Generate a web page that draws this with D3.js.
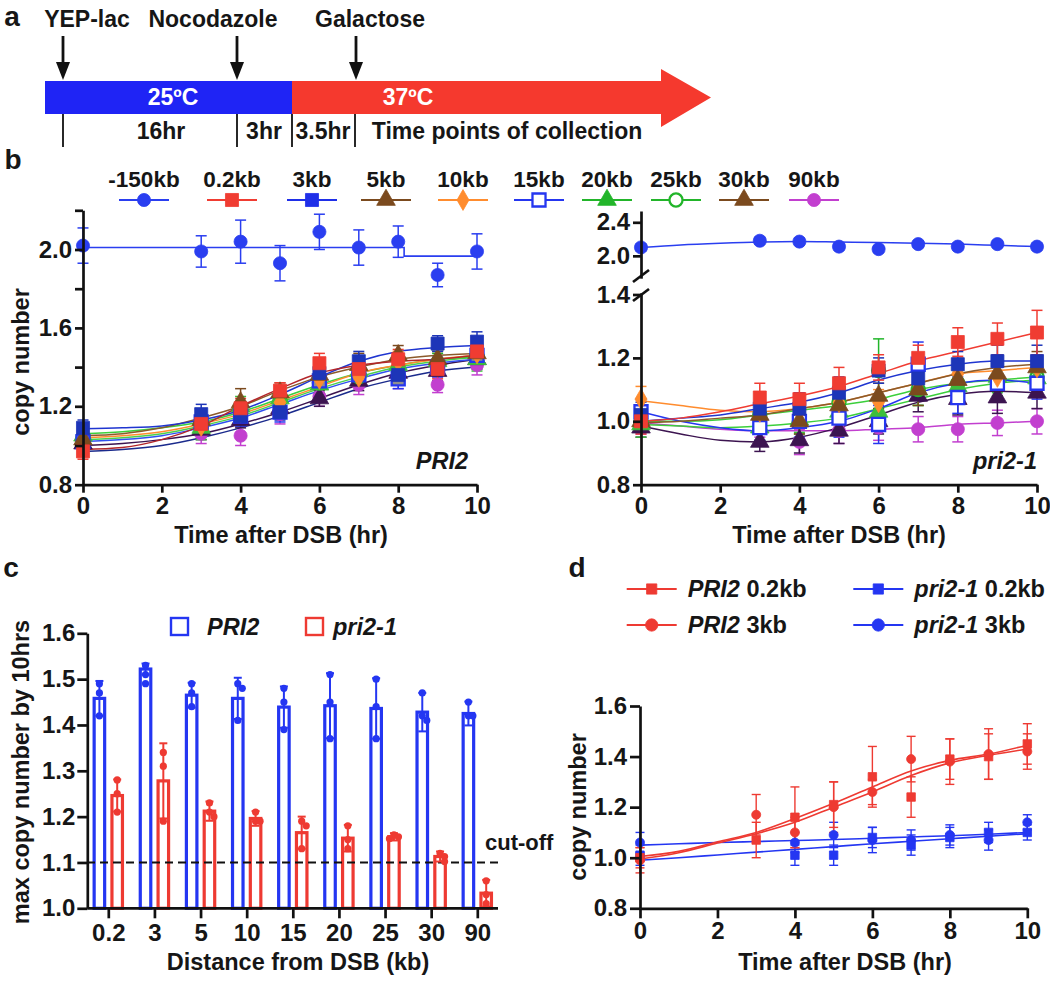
<!DOCTYPE html>
<html><head><meta charset="utf-8">
<script src="https://cdn.jsdelivr.net/npm/d3@7"></script>
<style>
body{margin:0;background:#fff;}
svg text{font-family:"Liberation Sans",Arial,Helvetica,sans-serif;font-weight:bold;fill:#161616;}
</style></head><body>
<svg id="fig" width="1050" height="992"></svg>
<script>
// ================= DATA =================
// Panel a
const aEvents = ["YEP-lac","Nocodazole","Galactose"];
const aDurations = ["16hr","3hr","3.5hr","Time points of collection"];
const aTemps = ["25ºC","37ºC"];

// Panel b
const bTimes = [0,3,4,5,6,7,8,9,10];
const fitTimes = [0,1,2,3,4,5,6,7,8,9,10];
const bSeries = ["-150kb","0.2kb","3kb","5kb","10kb","15kb","20kb","25kb","30kb","90kb"];
const bLeftValues = [
  [2.02,1.99,2.04,1.93,2.09,2.01,2.04,1.87,1.99],
  [0.97,1.11,1.19,1.28,1.42,1.39,1.44,1.39,1.48],
  [1.09,1.16,1.15,1.17,1.37,1.43,1.36,1.52,1.53],
  [1.03,1.13,1.22,1.27,1.36,1.41,1.46,1.44,1.47],
  [1.02,1.10,1.17,1.22,1.34,1.35,1.43,1.43,1.47],
  [1.02,1.12,1.15,1.17,1.33,1.36,1.34,1.40,1.46],
  [1.05,1.09,1.20,1.24,1.31,1.38,1.41,1.43,1.44],
  [1.04,1.10,1.17,1.23,1.32,1.35,1.39,1.42,1.46],
  [1.01,1.08,1.13,1.19,1.24,1.33,1.37,1.38,1.44],
  [1.00,1.06,1.05,1.16,1.25,1.31,1.34,1.31,1.41]
];
const bLeftErrors = [
  [0.09,0.08,0.11,0.09,0.09,0.09,0.08,0.06,0.09],
  [0.04,0.05,0.05,0.04,0.05,0.05,0.05,0.05,0.05],
  [0.04,0.05,0.05,0.04,0.04,0.05,0.05,0.04,0.05],
  [0.03,0.05,0.07,0.05,0.05,0.06,0.05,0.05,0.05],
  [0.03,0.05,0.05,0.05,0.05,0.05,0.05,0.05,0.05],
  [0.03,0.05,0.05,0.05,0.04,0.05,0.05,0.05,0.05],
  [0.04,0.06,0.05,0.05,0.05,0.05,0.05,0.05,0.06],
  [0.03,0.05,0.05,0.05,0.05,0.05,0.05,0.05,0.05],
  [0.03,0.05,0.04,0.05,0.04,0.05,0.05,0.05,0.05],
  [0.04,0.05,0.05,0.05,0.05,0.05,0.05,0.04,0.05]
];
const bLeftRefFitTimes = [0,8.15,8.15,10];
const bLeftRefFit = [2.01,2.01,1.966,1.966];
const bLeftFits = [
  null,
  [0.98,0.99,1.03,1.10,1.20,1.29,1.37,1.41,1.43,1.44,1.46],
  [1.085,1.09,1.10,1.13,1.18,1.26,1.35,1.43,1.48,1.50,1.51],
  [1.05,1.06,1.09,1.14,1.20,1.28,1.35,1.40,1.44,1.46,1.47],
  [1.04,1.05,1.07,1.11,1.16,1.23,1.30,1.37,1.41,1.44,1.46],
  [1.02,1.03,1.05,1.09,1.14,1.21,1.28,1.34,1.39,1.42,1.44],
  [1.06,1.07,1.09,1.12,1.17,1.24,1.31,1.37,1.41,1.44,1.45],
  [1.03,1.04,1.06,1.10,1.15,1.22,1.29,1.35,1.40,1.43,1.45],
  [1.00,1.01,1.03,1.06,1.11,1.17,1.24,1.31,1.37,1.41,1.44],
  [0.97,0.98,1.00,1.04,1.09,1.15,1.22,1.29,1.34,1.38,1.40]
];
const bRightValues = [
  [2.10,2.18,2.17,2.11,2.08,2.14,2.11,2.14,2.11],
  [1.00,1.075,1.07,1.12,1.17,1.20,1.25,1.26,1.28],
  [1.02,1.04,1.04,1.09,1.16,1.135,1.18,1.19,1.19],
  [1.00,1.02,1.00,1.05,1.08,1.10,1.13,1.15,1.17],
  [1.07,1.03,1.03,1.06,1.06,1.12,1.15,1.14,1.17],
  [1.03,0.98,1.00,1.01,0.99,1.18,1.075,1.12,1.12],
  [0.99,0.98,1.005,1.03,1.03,1.10,1.11,1.14,1.135],
  [1.00,1.02,1.00,1.06,1.16,1.10,1.12,1.13,1.14],
  [0.98,0.935,0.94,0.97,1.00,1.08,1.07,1.075,1.09],
  [0.99,0.98,0.935,0.97,0.98,0.975,0.975,0.995,1.00]
];
const bRightErrors = [
  [0.04,0.04,0.04,0.04,0.04,0.04,0.04,0.04,0.04],
  [0.04,0.045,0.05,0.05,0.04,0.04,0.045,0.05,0.07],
  [0.04,0.04,0.05,0.05,0.04,0.05,0.04,0.05,0.05],
  [0.03,0.04,0.04,0.04,0.04,0.05,0.04,0.05,0.05],
  [0.04,0.04,0.04,0.04,0.04,0.04,0.05,0.04,0.04],
  [0.04,0.04,0.05,0.06,0.06,0.07,0.05,0.05,0.05],
  [0.04,0.04,0.04,0.05,0.04,0.05,0.05,0.05,0.05],
  [0.03,0.04,0.04,0.04,0.10,0.05,0.05,0.05,0.05],
  [0.03,0.03,0.04,0.04,0.04,0.05,0.05,0.05,0.05],
  [0.03,0.03,0.04,0.04,0.04,0.04,0.04,0.04,0.04]
];
const bRightFits = [
  [2.10,2.13,2.15,2.165,2.17,2.165,2.16,2.15,2.14,2.125,2.11],
  [1.00,1.01,1.03,1.055,1.08,1.11,1.15,1.19,1.22,1.25,1.28],
  [1.00,1.01,1.02,1.04,1.06,1.09,1.13,1.16,1.18,1.19,1.19],
  [0.995,1.0,1.01,1.02,1.04,1.06,1.09,1.12,1.15,1.17,1.18],
  [1.065,1.05,1.035,1.03,1.04,1.06,1.09,1.12,1.15,1.16,1.17],
  [1.03,1.0,0.98,0.97,0.98,1.0,1.04,1.09,1.12,1.13,1.12],
  [0.99,0.985,0.98,0.985,0.995,1.01,1.04,1.07,1.10,1.12,1.13],
  [1.0,1.0,1.005,1.02,1.035,1.05,1.07,1.10,1.12,1.13,1.14],
  [0.985,0.96,0.94,0.935,0.95,0.98,1.02,1.06,1.085,1.095,1.09],
  [0.995,0.985,0.975,0.97,0.97,0.97,0.975,0.98,0.99,0.995,1.0]
];
const bYTicksLeft = [0.8,1.0,1.2,1.4,1.6,1.8,2.0,2.2];
const bYLabelsLeft = [0.8,1.2,1.6,2.0];
const bYTicksRightLow = [0.8,1.0,1.2,1.4];
const bYTicksRightHigh = [2.0,2.4];
const timeTicks = [0,2,4,6,8,10];

// Panel c
const cCategories = ["0.2","3","5","10","15","20","25","30","90"];
const cPRI2 = [1.458,1.522,1.465,1.458,1.439,1.442,1.436,1.428,1.425];
const cPRI2sd = [0.038,0.012,0.027,0.045,0.045,0.071,0.066,0.042,0.026];
const cPRI2dots = [[1.49,1.47,1.42],[1.53,1.51,1.49],[1.49,1.47,1.44],[1.49,1.48,1.41],[1.48,1.45,1.39],[1.51,1.45,1.37],[1.50,1.44,1.37],[1.47,1.42,1.41],[1.45,1.42,1.42]];
const cPri21 = [1.246,1.278,1.212,1.196,1.165,1.153,1.156,1.113,1.033];
const cPri21sd = [0.035,0.082,0.021,0.016,0.035,0.029,0.008,0.011,0.029];
const cPri21dots = [[1.28,1.25,1.21],[1.34,1.31,1.19],[1.23,1.21,1.20],[1.21,1.19,1.19],[1.19,1.18,1.13],[1.18,1.15,1.13],[1.16,1.156,1.152],[1.12,1.113,1.102],[1.06,1.03,1.01]];
const cCutoff = 1.1;
const cYTicks = [1.0,1.1,1.2,1.3,1.4,1.5,1.6];

// Panel d
const dSeries = ["PRI2 0.2kb","PRI2 3kb","pri2-1 0.2kb","pri2-1 3kb"];
const dTimes = [0,3,4,5,6,7,8,9,10];
const dValues = [
  [1.00,1.07,1.16,1.21,1.32,1.24,1.39,1.40,1.45],
  [0.99,1.17,1.10,1.20,1.26,1.39,1.38,1.41,1.42],
  [1.01,null,1.01,1.01,1.08,1.05,1.08,1.10,1.10],
  [1.06,null,1.06,1.09,1.07,1.07,1.09,1.07,1.14]
];
const dErrors = [
  [0.04,0.07,0.12,0.09,0.12,0.08,0.08,0.09,0.08],
  [0.05,0.08,0.06,0.10,0.05,0.09,0.09,0.10,0.07],
  [0.04,null,0.04,0.04,0.04,0.04,0.04,0.04,0.03],
  [0.04,null,0.04,0.05,0.05,0.04,0.04,0.04,0.03]
];
const dFits = [
  [1.005,1.025,1.063,1.10,1.155,1.215,1.28,1.343,1.385,1.41,1.445],
  [0.995,1.02,1.058,1.095,1.14,1.20,1.26,1.325,1.375,1.405,1.43],
  [0.99,1.0,1.011,1.022,1.033,1.044,1.055,1.065,1.075,1.085,1.095],
  [1.05,1.055,1.06,1.064,1.068,1.072,1.077,1.082,1.087,1.093,1.10]
];
const dYTicks = [0.8,1.0,1.2,1.4,1.6];

// ================= STYLE =================
const FONT = '"Liberation Sans", Arial, Helvetica, sans-serif';
const TICK_FS = 24, TITLE_FS = 23.5, LEG_FS = 22.5, LETTER_FS = 28;
const bShapes = ["circle","square","square","triangle","diamond","square","triangle","circle","triangle","circle"];
const bFilled = [1,1,1,1,1,0,1,0,1,1];
const bLegendColors = ["#2a3ef0","#f03c32","#1f2fe8","#7b4a1e","#ff8c2e","#2536f0","#22b52a","#22b52a","#7b4a1e","#c23fcf"];
const bPointColors = ["#2a3ef0","#f03c32","#1d35b8","#7b4a1e","#ff8c2e","#2536f0","#3cbf3c","#22b52a","#3c1450","#c23fcf"];
const bLineColorsLeft = ["#2a3ef0","#b3262a","#1f35d0","#8b5a2b","#ff8c2e","#3050f0","#3ccf3c","#4cd04c","#3c1450","#1a2a8c"];
const bLineColorsRight = ["#2a3ef0","#f03c32","#1f35d0","#8b5a2b","#ff8c2e","#2536f0","#3ccf3c","#3ccf3c","#3c1450","#c23fcf"];
const bLegendX = [144,232,312,386,463,539,607,676,744,814];
const symArea = {circle:135, square:170, triangle:150, diamond:125};
const RED = "#ee3a32", BLUE = "#2436f2";

const svg = d3.select("#fig");

function styleAxis(g, fs){
  g.attr("font-size",fs).attr("font-family",FONT).attr("font-weight","bold");
  g.selectAll(".domain,.tick line").attr("stroke","#111").attr("stroke-width",2.7);
  g.selectAll(".tick text").attr("fill","#111");
}
function sym(shape){
  return {circle:d3.symbolCircle, square:d3.symbolSquare, triangle:d3.symbolTriangle, diamond:d3.symbolDiamond}[shape];
}
function marker(g, shape, x, y, area, color, filled, openFill){
  g.append("path").attr("d", d3.symbol(sym(shape), area)())
    .attr("transform",`translate(${x},${y})`)
    .attr("fill", filled ? color : (openFill||"#fff"))
    .attr("stroke", color).attr("stroke-width", filled?0.8:2.3);
}
function errBar(g, x, y1, y2, cap, color, sw){
  g.append("line").attr("x1",x).attr("x2",x).attr("y1",y1).attr("y2",y2).attr("stroke",color).attr("stroke-width",sw);
  [y1,y2].forEach(y=>g.append("line").attr("x1",x-cap/2).attr("x2",x+cap/2).attr("y1",y).attr("y2",y).attr("stroke",color).attr("stroke-width",sw));
}
function label(parent, txt, x, y, fs, opts){
  opts = opts||{};
  const t = parent.append("text").attr("x",x).attr("y",y).attr("font-size",fs)
    .attr("text-anchor",opts.anchor||"middle").attr("dominant-baseline","central");
  if(opts.italic) t.attr("font-style","italic");
  if(opts.fill) t.style("fill",opts.fill);
  if(opts.rotate) t.attr("transform",`rotate(-90,${x},${y})`);
  t.text(txt);
  return t;
}
const lineGen = (x,y)=>d3.line().x(d=>x(d[0])).y(d=>y(d[1])).curve(d3.curveMonotoneX);

// ================= PANEL a =================
label(svg, "a", 12, 16, LETTER_FS);
(function(){
  const g = svg.append("g");
  const y0=81, y1=114, xStart=45, xSplit=292, xBody=661, xTip=711, hTop=69, hBot=127;
  g.append("rect").attr("x",xStart).attr("y",y0).attr("width",xSplit-xStart).attr("height",y1-y0).attr("fill","#1f24f5");
  g.append("path").attr("d",`M${xSplit},${y0}H${xBody}V${hTop}L${xTip},${(y0+y1)/2}L${xBody},${hBot}V${y1}H${xSplit}Z`).attr("fill","#f5392e");
  const arrowX = [63,237,356];
  const textX = [87,213,370];
  aEvents.forEach((e,i)=>{
    g.append("line").attr("x1",arrowX[i]).attr("x2",arrowX[i]).attr("y1",36).attr("y2",66).attr("stroke","#111").attr("stroke-width",2.8);
    g.append("path").attr("d",`M${arrowX[i]-7},${62}L${arrowX[i]+7},${62}L${arrowX[i]},${80}Z`).attr("fill","#111");
    label(g, e, textX[i], 19, 23);
  });
  [63,237,292,355].forEach(x=>g.append("line").attr("x1",x).attr("x2",x).attr("y1",y1).attr("y2",147).attr("stroke","#111").attr("stroke-width",1.8));
  const durX = [161,264,323,507];
  aDurations.forEach((d,i)=>label(g, d, durX[i], 131, 23));
  label(g, aTemps[0], 173, 97, 23, {fill:"#fff"});
  label(g, aTemps[1], 408, 97, 23, {fill:"#fff"});
})();

// ================= PANEL b =================
label(svg, "b", 13, 159, LETTER_FS);
const gb = svg.append("g").attr("transform","translate(0,-27)");
bSeries.forEach((s,i)=>{
  const cx = bLegendX[i];
  label(gb, s, cx, 206, LEG_FS);
  gb.append("line").attr("x1",cx-25).attr("x2",cx+25).attr("y1",227).attr("y2",227).attr("stroke",bLegendColors[i]).attr("stroke-width",1.8);
  marker(gb, bShapes[i], cx, 227, symArea[bShapes[i]], bLegendColors[i], bFilled[i]);
});

// left
(function(){
  const x = d3.scaleLinear().domain([0,10]).range([83,477]);
  const y = d3.scaleLinear().domain([0.8,2.2]).range([511.7,237.3]);
  const g = gb.append("g");
  g.append("path").attr("d", d3.line().x(d=>x(d[0])).y(d=>y(d[1]))(bLeftRefFitTimes.map((t,k)=>[t,bLeftRefFit[k]])))
    .attr("fill","none").attr("stroke",bLineColorsLeft[0]).attr("stroke-width",1.6);
  for(let i=bSeries.length-1;i>=1;i--){
    g.append("path").attr("d", lineGen(x,y)(fitTimes.map((t,k)=>[t,bLeftFits[i][k]])))
      .attr("fill","none").attr("stroke",bLineColorsLeft[i]).attr("stroke-width",1.5);
  }
  const order = [9,8,7,6,5,4,3,2,1,0];
  order.forEach(i=>{
    bTimes.forEach((t,k)=>{
      const v=bLeftValues[i][k], e=bLeftErrors[i][k];
      errBar(g, x(t), y(v+e), y(v-e), 11, bPointColors[i], 1.5);
    });
  });
  order.forEach(i=>{
    bTimes.forEach((t,k)=>{
      marker(g, bShapes[i], x(t), y(bLeftValues[i][k]), symArea[bShapes[i]], bPointColors[i], bFilled[i], i===5?"#8f8f8f":"#fff");
    });
  });
  const ya = gb.append("g").attr("transform","translate(83,0)")
    .call(d3.axisLeft(y).tickValues(bYTicksLeft).tickSize(8).tickSizeOuter(0).tickPadding(3)
      .tickFormat(d=>bYLabelsLeft.some(v=>Math.abs(v-d)<1e-6)?d3.format(".1f")(d):""));
  styleAxis(ya, TICK_FS);
  const xa = gb.append("g").attr("transform","translate(0,511.7)")
    .call(d3.axisBottom(x).tickValues(timeTicks).tickSize(8).tickSizeOuter(0).tickPadding(4));
  styleAxis(xa, TICK_FS);
  label(gb, "copy number", 21, 389, TITLE_FS, {rotate:true});
  label(gb, "Time after DSB (hr)", 281, 562, TITLE_FS);
  label(gb, "PRI2", 468, 488, TITLE_FS, {anchor:"end", italic:true});
})();

// right
(function(){
  const x = d3.scaleLinear().domain([0,10]).range([641,1037]);
  const yLo = d3.scaleLinear().domain([0.8,1.405]).range([511.7,319.9]);
  const yHi = d3.scaleLinear().domain([1.733,2.535]).range([305.2,238]);
  const g = gb.append("g");
  for(let i=bSeries.length-1;i>=0;i--){
    const y = i===0?yHi:yLo;
    g.append("path").attr("d", lineGen(x,y)(fitTimes.map((t,k)=>[t,bRightFits[i][k]])))
      .attr("fill","none").attr("stroke",bLineColorsRight[i]).attr("stroke-width",1.5);
  }
  const order = [9,8,7,6,5,4,3,2,1,0];
  order.forEach(i=>{
    const y = i===0?yHi:yLo;
    bTimes.forEach((t,k)=>{
      const v=bRightValues[i][k], e=bRightErrors[i][k];
      errBar(g, x(t), y(v+e), y(v-e), 11, bPointColors[i], 1.5);
    });
  });
  order.forEach(i=>{
    const y = i===0?yHi:yLo;
    bTimes.forEach((t,k)=>{
      marker(g, bShapes[i], x(t), y(bRightValues[i][k]), symArea[bShapes[i]], bPointColors[i], bFilled[i]);
    });
  });
  const ya1 = gb.append("g").attr("transform","translate(641,0)")
    .call(d3.axisLeft(yLo).tickValues(bYTicksRightLow).tickSize(8).tickSizeOuter(0).tickPadding(3).tickFormat(d3.format(".1f")));
  styleAxis(ya1, TICK_FS);
  const ya2 = gb.append("g").attr("transform","translate(641,0)")
    .call(d3.axisLeft(yHi).tickValues(bYTicksRightHigh).tickSize(8).tickSizeOuter(0).tickPadding(3).tickFormat(d3.format(".1f")));
  styleAxis(ya2, TICK_FS);
  [303,322].forEach(yy=>gb.append("line").attr("x1",633).attr("x2",649).attr("y1",yy+6).attr("y2",yy-6).attr("stroke","#111").attr("stroke-width",2.7));
  const xa = gb.append("g").attr("transform","translate(0,511.7)")
    .call(d3.axisBottom(x).tickValues(timeTicks).tickSize(8).tickSizeOuter(0).tickPadding(4));
  styleAxis(xa, TICK_FS);
  label(gb, "Time after DSB (hr)", 839, 562, TITLE_FS);
  label(gb, "pri2-1", 1037, 488, TITLE_FS, {anchor:"end", italic:true});
})();

// ================= PANEL c =================
label(svg, "c", 11, 567, LETTER_FS);
(function(){
  const gc = svg.append("g").attr("transform","translate(0,-25)");
  const x = d3.scalePoint().domain(cCategories).range([108.3,477.3]);
  const y = d3.scaleLinear().domain([1.0,1.6]).range([933.3,658.3]);
  const g = gc.append("g");
  const off = 8.9, bw = 10.5;
  const groups = [
    {vals:cPRI2, sd:cPRI2sd, dots:cPRI2dots, color:BLUE, dx:-off},
    {vals:cPri21, sd:cPri21sd, dots:cPri21dots, color:RED, dx:off}
  ];
  groups.forEach(gr=>{
    cCategories.forEach((c,i)=>{
      const cx = x(c)+gr.dx;
      g.append("rect").attr("x",cx-bw/2).attr("y",y(gr.vals[i])).attr("width",bw).attr("height",y(1.0)-y(gr.vals[i]))
        .attr("fill","#fff").attr("stroke",gr.color).attr("stroke-width",3.2);
    });
  });
  g.append("line").attr("x1",87).attr("x2",498).attr("y1",y(cCutoff)).attr("y2",y(cCutoff))
    .attr("stroke","#111").attr("stroke-width",2).attr("stroke-dasharray","8,5");
  groups.forEach(gr=>{
    cCategories.forEach((c,i)=>{
      const cx = x(c)+gr.dx;
      errBar(g, cx, y(gr.vals[i]+gr.sd[i]), y(gr.vals[i]-gr.sd[i]), 8, gr.color, 2);
      const placed=[];
      gr.dots[i].forEach(v=>{
        const n = placed.filter(p=>Math.abs(p-v)<0.012).length;
        placed.push(v);
        const dx = n===0?0:(n%2===1?4.5:-4.5);
        g.append("circle").attr("cx",cx+dx).attr("cy",y(v)).attr("r",3.6).attr("fill",gr.color);
      });
    });
  });
  const ya = gc.append("g").attr("transform","translate(87.3,0)")
    .call(d3.axisLeft(y).tickValues(cYTicks).tickSize(10).tickSizeOuter(0).tickPadding(2).tickFormat(d3.format(".1f")));
  styleAxis(ya, TICK_FS);
  const xa = gc.append("g").attr("transform","translate(0,933.3)")
    .call(d3.axisBottom(x).tickSize(10).tickSizeOuter(0).tickPadding(6));
  xa.select(".domain").remove();
  xa.append("line").attr("x1",87.3).attr("x2",498).attr("y1",0).attr("y2",0);
  styleAxis(xa, TICK_FS);
  xa.selectAll("line").attr("stroke","#111").attr("stroke-width",2.7);
  label(gc, "max copy number by 10hrs", 21, 797, TITLE_FS, {rotate:true});
  label(gc, "Distance from DSB (kb)", 298, 987, TITLE_FS);
  label(gc, "cut-off", 485, 867, 22, {anchor:"start"});
  gc.append("rect").attr("x",171).attr("y",643).attr("width",17).attr("height",17).attr("fill","#fff").attr("stroke",BLUE).attr("stroke-width",2.4);
  label(gc, "PRI2", 207, 652, TITLE_FS, {anchor:"start", italic:true});
  gc.append("rect").attr("x",306).attr("y",643).attr("width",17).attr("height",17).attr("fill","#fff").attr("stroke",RED).attr("stroke-width",2.4);
  label(gc, "pri2-1", 333, 652, TITLE_FS, {anchor:"start", italic:true});
})();

// ================= PANEL d =================
label(svg, "d", 577, 567, LETTER_FS);
(function(){
  const x = d3.scaleLinear().domain([0,10]).range([640,1027.3]);
  const y = d3.scaleLinear().domain([0.8,1.6]).range([908.3,706]);
  const g = svg.append("g");
  const colors = [RED,RED,BLUE,BLUE];
  const shapes = ["square","circle","square","circle"];
  const areas = {square:72, circle:64};
  const order = [3,2,1,0];
  order.forEach(i=>{
    g.append("path").attr("d", lineGen(x,y)(fitTimes.map((t,k)=>[t,dFits[i][k]])))
      .attr("fill","none").attr("stroke",colors[i]).attr("stroke-width",1.6);
  });
  order.forEach(i=>{
    dTimes.forEach((t,k)=>{
      const v=dValues[i][k]; if(v==null) return;
      const e=dErrors[i][k];
      errBar(g, x(t), y(v+e), y(v-e), 9, colors[i], 1.4);
    });
  });
  order.forEach(i=>{
    dTimes.forEach((t,k)=>{
      const v=dValues[i][k]; if(v==null) return;
      marker(g, shapes[i], x(t), y(v), areas[shapes[i]], colors[i], 1);
    });
  });
  const ya = svg.append("g").attr("transform","translate(640,0)")
    .call(d3.axisLeft(y).tickValues(dYTicks).tickSize(10).tickSizeOuter(0).tickPadding(3).tickFormat(d3.format(".1f")));
  styleAxis(ya, TICK_FS);
  const xa = svg.append("g").attr("transform","translate(0,908.3)")
    .call(d3.axisBottom(x).tickValues(timeTicks).tickSize(10).tickSizeOuter(0).tickPadding(4));
  styleAxis(xa, TICK_FS);
  label(svg, "copy number", 578, 807, TITLE_FS, {rotate:true});
  label(svg, "Time after DSB (hr)", 845, 962, TITLE_FS);
  const lx = [651.7, 878.3], ly = [589, 625];
  dSeries.forEach((s,i)=>{
    const cx = lx[Math.floor(i/2)], cy = ly[i%2];
    svg.append("line").attr("x1",cx-25).attr("x2",cx+25).attr("y1",cy).attr("y2",cy).attr("stroke",colors[i]).attr("stroke-width",1.8);
    marker(svg, shapes[i], cx, cy, shapes[i]==="square"?105:120, colors[i], 1);
    const parts = s.split(" ");
    const t = svg.append("text").attr("x",cx+36).attr("y",cy).attr("font-size",TITLE_FS).attr("dominant-baseline","central");
    t.append("tspan").attr("font-style","italic").text(parts[0]);
    t.append("tspan").text(" "+parts[1]);
  });
})();
</script>
</body></html>
